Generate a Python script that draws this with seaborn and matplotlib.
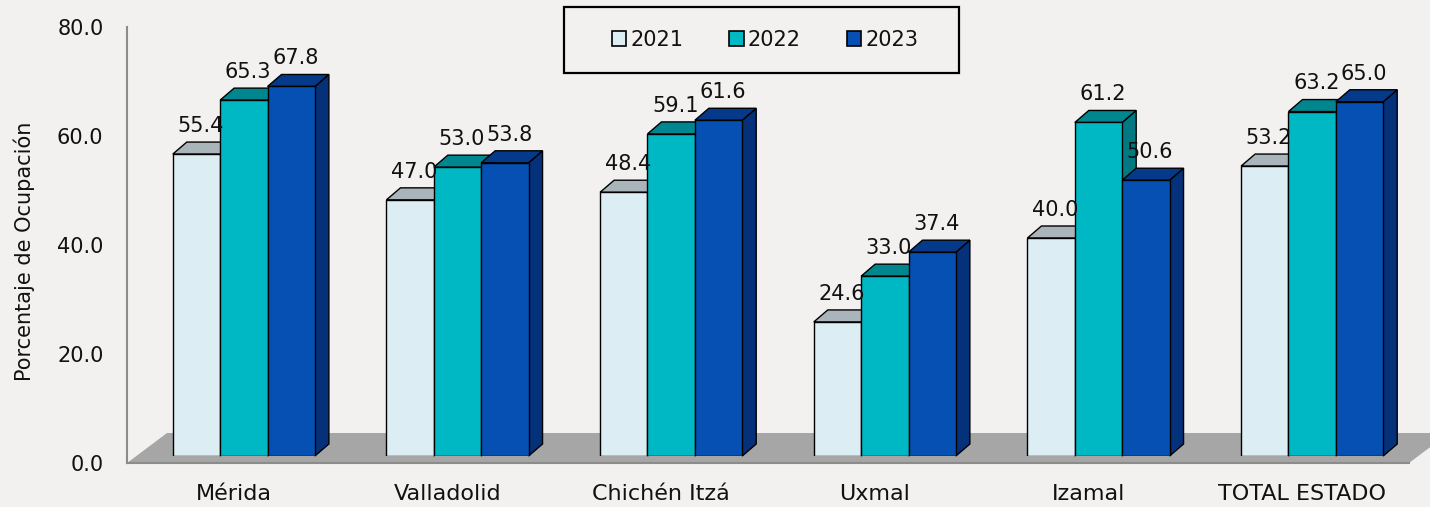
import numpy as np
import pandas as pd
import matplotlib
matplotlib.use('Agg')
import matplotlib.pyplot as plt
import seaborn as sns
from matplotlib.patches import Polygon, Patch, Rectangle

# ============================================================================
# DATA
# ============================================================================

categories = ['Mérida', 'Valladolid', 'Chichén Itzá', 'Uxmal', 'Izamal', 'TOTAL ESTADO']
years = ['2021', '2022', '2023']
occ_2021 = [55.4, 47.0, 48.4, 24.6, 40.0, 53.2]
occ_2022 = [65.3, 53.0, 59.1, 33.0, 61.2, 63.2]
occ_2023 = [67.8, 53.8, 61.6, 37.4, 50.6, 65.0]
y_ticks = [0, 20, 40, 60, 80]

df = pd.DataFrame({
    'destino': categories * 3,
    'anio': np.repeat(years, len(categories)),
    'ocupacion': occ_2021 + occ_2022 + occ_2023,
})

# colours: front face, top face, side face per year
front_colors = ['#DCEEF4', '#00B7C4', '#0650B4']
top_colors = ['#A9B5BA', '#00868F', '#053A8A']
side_colors = ['#8E9BA0', '#007A80', '#04317A']
bg = '#F2F1EF'
axis_gray = '#8C8C8C'
text_color = '#111111'

sns.set_theme(style='white')
plt.rcParams['font.family'] = ['DejaVu Sans']

W, H = 1430, 507
fig = plt.figure(figsize=(W / 100, H / 100), dpi=100)
fig.patch.set_facecolor(bg)


def px_rect(x0, y_top, x1, y_bot):
    return [x0 / W, (H - y_bot) / H, (x1 - x0) / W, (y_bot - y_top) / H]


# frame axes (axis lines, floor) and bar axes shifted back into the "depth"
ax = fig.add_axes(px_rect(127, 27, 1409, 463))
axb = fig.add_axes(px_rect(137, 20, 1419, 456))

sns.barplot(data=df, x='destino', y='ocupacion', hue='anio', order=categories,
            hue_order=years, palette=front_colors, saturation=1, width=0.665,
            edgecolor='black', linewidth=1.0, legend=False, errorbar=None, ax=axb)

for a in (ax, axb):
    a.set_xlim(-0.5, len(categories) - 0.5)
    a.set_ylim(0, 80)
    a.set_facecolor('none')
axb.axis('off')

# pixel -> data conversion for the 3D depth
ppx = axb.bbox.width / len(categories)
ppy = axb.bbox.height / 80
ddx, ddy = 14 / ppx, 12 / ppy

# ============================================================================
# 3D FACES
# ============================================================================

bars = sorted(axb.patches, key=lambda p: p.get_x())
for i, p in enumerate(bars):
    k = i % 3
    x0, w, h = p.get_x(), p.get_width(), p.get_height()
    x1 = x0 + w
    p.set_zorder(3 + 2 * i)
    side = Polygon([(x1, 0), (x1, h), (x1 + ddx, h + ddy), (x1 + ddx, ddy)],
                   closed=True, fc=side_colors[k], ec='black', lw=1.0,
                   zorder=2 + 2 * i, clip_on=False)
    top = Polygon([(x0, h), (x1, h), (x1 + ddx, h + ddy), (x0 + ddx, h + ddy)],
                  closed=True, fc=top_colors[k], ec='black', lw=1.0,
                  zorder=2 + 2 * i, clip_on=False)
    axb.add_patch(side)
    axb.add_patch(top)
    axb.annotate(f'{h:.1f}', xy=(x0 + w / 2 + ddx * 0.3, h + ddy), xytext=(0, 4.5),
                 textcoords='offset points', ha='center', va='bottom',
                 fontsize=15, color=text_color, zorder=100)

# floor
fdx, fdy = 40 / ppx, 30 / ppy
n = len(categories)
floor = Polygon([(-0.5, 0), (n - 0.5, 0), (n - 0.5 + fdx, fdy), (-0.5 + fdx, fdy)],
                closed=True, fc='#A6A6A6', ec='none', zorder=0.5, clip_on=False)
ax.add_patch(floor)

# ============================================================================
# AXES
# ============================================================================

sns.despine(ax=ax)
for s in ('left', 'bottom'):
    ax.spines[s].set_color(axis_gray)
    ax.spines[s].set_linewidth(1.5)

ax.set_yticks(y_ticks)
ax.set_yticklabels([f'{v:.1f}' for v in y_ticks], fontsize=15, color=text_color)
ax.tick_params(axis='y', length=6, width=1.5, color=axis_gray, pad=11)

ax.set_xticks(range(n))
ax.set_xticklabels(categories, fontsize=16, color=text_color)
ax.set_xticks(np.arange(-0.5, n), minor=True)
ax.tick_params(axis='x', which='major', length=0, pad=15)
ax.tick_params(axis='x', which='minor', length=5, width=1.5, color=axis_gray)

ax.set_ylabel('Porcentaje de Ocupación', fontsize=15, color=text_color)
ax.yaxis.set_label_coords(-0.072, 0.485)
ax.set_xlabel('')

# legend with rectangular box
handles = [Patch(fc=c, ec='black', lw=1.2) for c in front_colors]
fig.legend(handles, years, loc='center', bbox_to_anchor=(765 / W, 1 - 40 / H),
           ncol=3, frameon=False, fontsize=15, handlelength=0.7, handleheight=0.7,
           handletextpad=0.2, columnspacing=2.2, labelcolor=text_color)
fig.add_artist(Rectangle((564 / W, 1 - 73 / H), 395 / W, 66 / H,
                         transform=fig.transFigure, fill=False, ec='black', lw=1.6))

fig.savefig('out.png', dpi=100, facecolor=bg)
print("Saved: out.png")
